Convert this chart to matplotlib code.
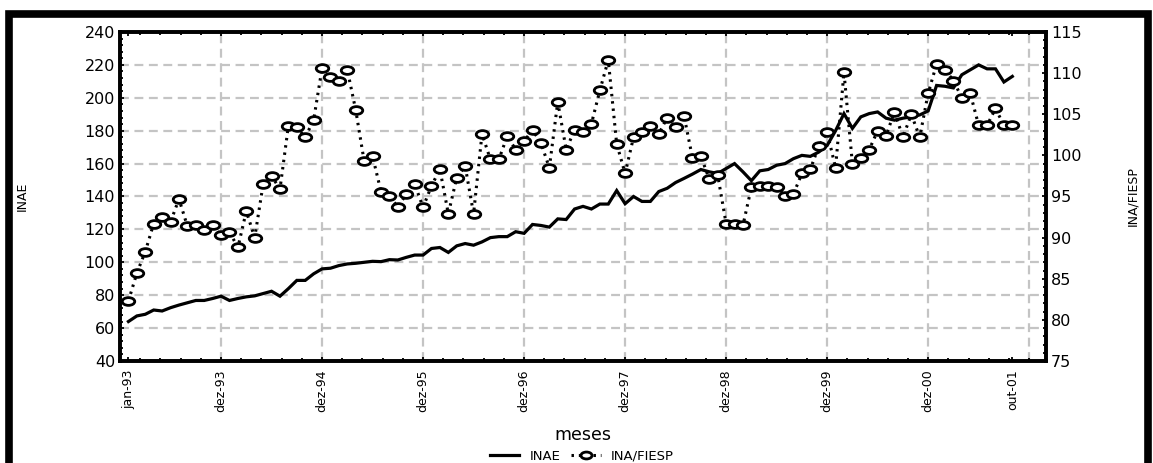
import numpy as np
import matplotlib
matplotlib.use("Agg")
import matplotlib.pyplot as plt
from matplotlib.path import Path
from matplotlib.patches import Rectangle
from matplotlib.lines import Line2D
from matplotlib.ticker import MultipleLocator, FixedLocator

plt.rcParams['font.family'] = ['DejaVu Sans']

# monthly series, jan-93 .. out-01 (cases 1..106)
inae = [
    64, 67.4, 68.4, 71, 70.4, 72.4, 74, 75.4, 76.8, 76.8, 78, 79.4,
    76.8, 78, 79, 79.6, 81, 82.4, 79.4, 84, 89, 89, 93, 96,
    96.4, 98, 99, 99.4, 100, 100.6, 100.4, 101.6, 101.4, 103, 104.4, 104.4,
    108.4, 109, 106, 110, 111.4, 110.4, 112.4, 115, 115.6, 115.6, 118.6, 117.6,
    123, 122.4, 121.4, 126.4, 126, 132.4, 134, 132.4, 135.4, 135.4, 143.6, 135.6,
    140, 137, 137, 143, 145, 148.5, 151, 153.6, 156.4, 155, 154, 157,
    160, 155, 149.6, 155.6, 156.4, 159, 160, 163, 165, 164.4, 167, 171,
    180, 190.4, 181.4, 188.4, 190.4, 191.4, 187.6, 186.4, 187.6, 188.4, 189.6, 192,
    207.5, 207, 206, 214, 217, 220, 217.6, 217.6, 209.6, 213,
]
ina_fiesp = [
    82.3, 85.7, 88.3, 91.7, 92.5, 91.9, 94.7, 91.4, 91.5, 90.9, 91.5, 90.3,
    90.7, 88.8, 93.2, 90.0, 96.5, 97.5, 95.9, 103.6, 103.4, 102.2, 104.3, 110.6,
    109.5, 109.0, 110.4, 105.5, 99.3, 99.9, 95.6, 95.1, 93.7, 95.3, 96.5, 93.7,
    96.3, 98.3, 92.9, 97.3, 98.7, 92.9, 102.6, 99.5, 99.5, 102.35, 100.7, 101.7,
    103.1, 101.5, 98.5, 106.5, 100.7, 103.1, 102.9, 103.85, 107.9, 111.6, 101.4, 97.8,
    102.2, 102.9, 103.6, 102.6, 104.6, 103.4, 104.8, 99.7, 99.9, 97.1, 97.6, 91.7,
    91.7, 91.5, 96.1, 96.3, 96.3, 96.1, 95.1, 95.3, 97.8, 98.3, 101.1, 102.8,
    98.5, 110.1, 99.0, 99.7, 100.7, 103.0, 102.4, 105.3, 102.2, 105.0, 102.2, 107.55,
    111.1, 110.4, 109.1, 107.0, 107.55, 103.65, 103.65, 105.7, 103.65, 103.65,
]
tick_cases = [1, 12, 24, 36, 48, 60, 72, 84, 96, 106]
tick_labels = ["jan-93", "dez-93", "dez-94", "dez-95", "dez-96",
               "dez-97", "dez-98", "dez-99", "dez-00", "out-01"]

cases = np.arange(1, len(inae) + 1)

# horizontally squashed ellipse marker
circ = Path.unit_circle()
ellipse = Path(circ.vertices * np.array([1.0, 0.62]), circ.codes)

fig = plt.figure(figsize=(11.53, 4.63), dpi=100)
ax = fig.add_axes([0.1041, 0.2203, 0.8031, 0.7106])
ax2 = ax.twinx()

grid_kw = dict(color="#c4c4c4", lw=1.6, ls=(0, (4, 2.5)), zorder=0)
for y in range(60, 240, 20):
    ax.axhline(y, **grid_kw)
for x in range(12, 109, 12):
    ax.axvline(x, **grid_kw)

ax.plot(cases, inae, color="black", lw=2.3, solid_joinstyle="miter", zorder=3)
ax2.plot(cases, ina_fiesp, color="black", lw=2.2, ls=(0, (0.8, 1.6)),
         marker=ellipse, markersize=9, markerfacecolor="white",
         markeredgecolor="black", markeredgewidth=2.0, zorder=3)

ax.set_xlim(0, 110)
ax.set_ylim(40, 240)
ax2.set_ylim(75, 115)

ax.yaxis.set_major_locator(MultipleLocator(20))
ax.yaxis.set_minor_locator(MultipleLocator(4))
ax2.yaxis.set_major_locator(MultipleLocator(5))
ax2.yaxis.set_minor_locator(MultipleLocator(1))
ax.xaxis.set_major_locator(FixedLocator(tick_cases))
ax.set_xticklabels(tick_labels, rotation=90, fontsize=9)
ax.xaxis.set_minor_locator(FixedLocator(np.arange(0, 109, 2.4)))

for a in (ax, ax2):
    for s in a.spines.values():
        s.set_linewidth(2.6)
ax.tick_params(axis="both", which="both", direction="in", width=1.3,
               top=True, labelsize=11.5)
ax.tick_params(axis="both", which="major", length=3)
ax.tick_params(axis="both", which="minor", length=2.5)
ax.tick_params(axis="x", labelsize=9, pad=6)
ax2.tick_params(axis="y", which="both", direction="in", width=1.3, labelsize=11.5)
ax2.tick_params(axis="y", which="major", length=3)
ax2.tick_params(axis="y", which="minor", length=2.5)

ax.set_ylabel("INAE", fontsize=9, labelpad=40)
ax2.set_ylabel("INA/FIESP", fontsize=9, labelpad=32)
ax.set_xlabel("meses", fontsize=12.5, labelpad=10)

handles = [
    Line2D([], [], color="black", lw=2.3),
    Line2D([], [], color="black", lw=2.2, ls=(0, (0.8, 1.6)), marker=ellipse,
           markersize=8, markerfacecolor="white", markeredgewidth=2.0),
]
fig.legend(handles, ["INAE", "INA/FIESP"], loc="lower center",
           bbox_to_anchor=(0.505, -0.025), ncol=2, frameon=False, fontsize=9.5,
           handlelength=2.2, columnspacing=0.8, handletextpad=0.8)

# thick outer frame; bottom edge lies below the canvas
fig.patches.append(Rectangle((0.0074, -0.05), 0.9883, 1.0198, fill=False,
                             lw=5.5, ec="black", transform=fig.transFigure))

fig.savefig("out.png", dpi=100)
